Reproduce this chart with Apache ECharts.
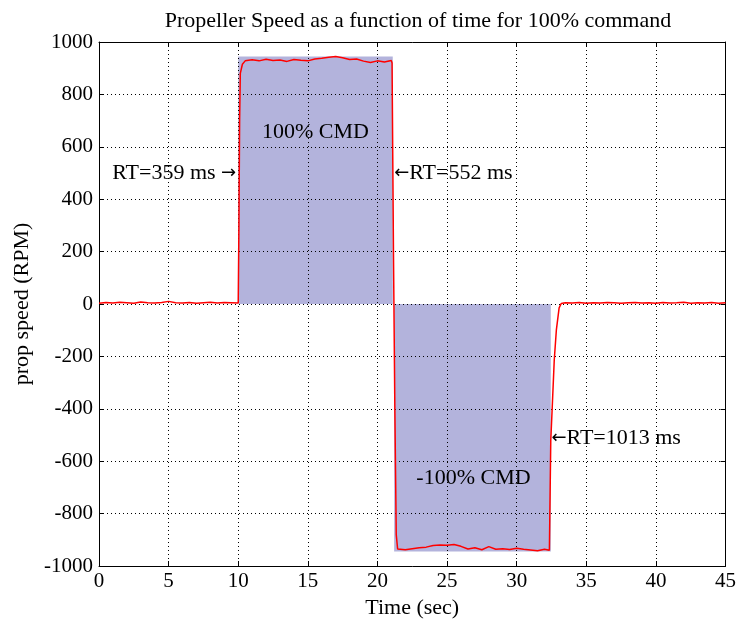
<!DOCTYPE html>
<html>
<head>
<meta charset="utf-8">
<script src="https://cdn.jsdelivr.net/npm/echarts@6/dist/echarts.min.js"></script>
<style>html,body{margin:0;padding:0;background:#fff}#c{width:739px;height:629px}</style>
</head>
<body>
<div id="c"></div>
<script>
// ---- data ----
var timeSec = [0,0.5,1,1.5,2,2.5,3,3.5,4,4.5,5,5.5,6,6.5,7,7.5,8,8.5,9,9.5,10.0,
  10.05,10.1,10.15,10.3,10.5,
  11,11.5,12,12.5,13,13.5,14,14.5,15,15.5,16,16.5,17,17.5,18,18.5,19,19.5,20,20.5,21.0,
  21.05,21.15,21.25,21.35,21.45,
  22,22.5,23,23.5,24,24.5,25,25.5,26,26.5,27,27.5,28,28.5,29,29.5,30,30.5,31,31.5,32,32.35,
  32.45,32.55,32.7,32.85,33.05,33.2,33.5,
  34,34.5,35,35.5,36,36.5,37,37.5,38,38.5,39,39.5,40,40.5,41,41.5,42,42.5,43,43.5,44,44.5,45];
var speedRpm = [3,6,4,7,5,3,8,5,4,6,10,5,4,6,3,5,7,4,6,5,4,
  300,700,880,915,928,
  932,928,934,929,931,926,933,930,928,935,938,942,945,940,933,935,927,922,928,924,929,
  920,200,-400,-880,-935,
  -938,-934,-930,-928,-922,-920,-921,-918,-925,-935,-930,-938,-926,-936,-934,-937,-932,-936,-939,-942,-936,-940,
  -520,-400,-214,-100,-15,2,5,
  4,6,3,5,4,6,5,3,5,6,4,5,3,6,4,5,7,3,5,4,6,3,5];
// command boxes: [tStart, tEnd, rpmFrom, rpmTo]
var cmdBoxes = [[10.0, 21.1, 0, 945], [21.2, 32.45, 0, -945]];
// annotations: text, time, rpm, alignment
var noteTexts = ['RT=359 ms {a|\u2192}', '{a|\u2190}RT=552 ms', '100% CMD', '-100% CMD', '{a|\u2190}RT=1013 ms'];
var noteTime  = [9.85, 21.2, 15.55, 26.9, 32.5];
var noteRpm   = [500, 500, 655, -665, -512];
var noteAlign = ['right', 'left', 'center', 'center', 'left'];
var xTicks = [0, 45, 5];
var yTicks = [-1000, 1000, 200];

var FONT = 'Liberation Serif';
var FS = 22;
var TFS = 21;

var lineData = timeSec.map(function (t, i) { return [t, speedRpm[i]]; });
var areaData = cmdBoxes.map(function (b) { return [{coord: [b[0], b[2]]}, {coord: [b[1], b[3]]}]; });
var noteData = noteTexts.map(function (s, i) {
  return {coord: [noteTime[i], noteRpm[i]], value: s,
    label: {align: noteAlign[i]}};
});

var dotted = {show: true, lineStyle: {color: '#000', width: 1, type: [1, 3]}};
var tick = {show: true, inside: true, length: 5, lineStyle: {color: '#000'}};
var axLine = {show: true, onZero: false, lineStyle: {color: '#000', width: 1}};
var plain = function (v) { return String(v); };

var chart = echarts.init(document.getElementById('c'));
chart.setOption({
  animation: false,
  backgroundColor: '#fff',
  title: {
    text: 'Propeller Speed as a function of time for 100% command',
    left: 413, top: 5, textAlign: 'center',
    textStyle: {fontFamily: FONT, fontSize: FS, fontWeight: 'normal', color: '#000'}
  },
  grid: {left: 99, right: 12, top: 42, bottom: 63},
  xAxis: [{
    type: 'value', min: xTicks[0], max: xTicks[1], interval: xTicks[2], z: 3,
    position: 'bottom',
    name: 'Time (sec)', nameLocation: 'middle', nameGap: 30,
    nameTextStyle: {fontFamily: FONT, fontSize: FS, color: '#000'},
    axisLine: axLine, axisTick: tick, splitLine: dotted,
    axisLabel: {fontFamily: FONT, fontSize: TFS, color: '#000', margin: 5, formatter: plain}
  }, {
    type: 'value', min: xTicks[0], max: xTicks[1], interval: xTicks[2], z: 3,
    position: 'top', axisLine: axLine, axisTick: tick, splitLine: {show: false},
    axisLabel: {show: false}
  }],
  yAxis: [{
    type: 'value', min: yTicks[0], max: yTicks[1], interval: yTicks[2], z: 3,
    position: 'left',
    name: 'prop speed (RPM)', nameLocation: 'middle', nameGap: 63,
    nameTextStyle: {fontFamily: FONT, fontSize: FS, color: '#000'},
    axisLine: axLine, axisTick: tick, splitLine: dotted,
    axisLabel: {fontFamily: FONT, fontSize: TFS, color: '#000', margin: 6, formatter: plain}
  }, {
    type: 'value', min: yTicks[0], max: yTicks[1], interval: yTicks[2], z: 3,
    position: 'right', axisLine: axLine, axisTick: tick, splitLine: {show: false},
    axisLabel: {show: false}
  }],
  series: [{
    type: 'line', data: [], z: 1,
    markArea: {silent: true, z: 1, itemStyle: {color: '#b3b3dc'}, data: areaData}
  }, {
    type: 'line', data: lineData, z: 5, showSymbol: false, symbol: 'none',
    lineStyle: {color: '#ff0000', width: 1.5}
  }, {
    type: 'line', data: [], z: 6,
    markPoint: {
      symbol: 'circle', symbolSize: 1, itemStyle: {color: 'rgba(0,0,0,0)'}, silent: true,
      label: {show: true, position: 'inside', formatter: function (p) { return p.value; },
        fontFamily: FONT, fontSize: FS, color: '#000',
        rich: {a: {fontFamily: 'DejaVu Sans', fontSize: 18, color: '#000'}}},
      data: noteData
    }
  }]
});
</script>
</body>
</html>
